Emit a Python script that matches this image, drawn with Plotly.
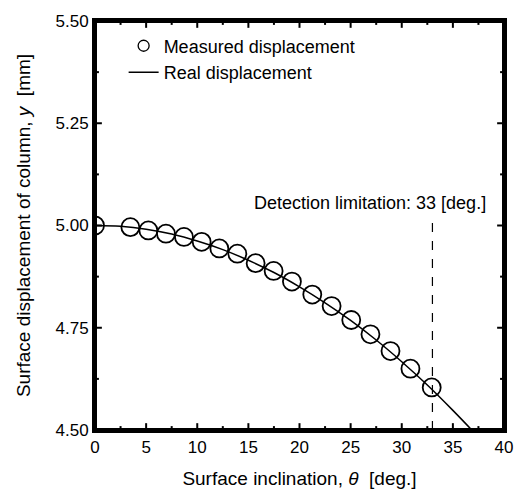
import plotly.graph_objects as go

# Measured displacement
theta_meas = [0, 3.46, 5.22, 6.94, 8.70, 10.43, 12.16, 13.92, 15.71, 17.47,
              19.26, 21.25, 23.14, 25.06, 26.94, 28.90, 30.85, 32.93]
y_meas = [5.000, 4.996, 4.988, 4.980, 4.972, 4.960, 4.944, 4.931, 4.908, 4.889,
          4.863, 4.831, 4.803, 4.769, 4.734, 4.693, 4.650, 4.604]

# Real displacement curve
theta_real = [0, 2.5, 5, 7.5, 10, 12.5, 15, 17.5, 20, 22.5, 25, 27.5, 30, 32.5, 35, 37]
y_real = [5.000, 4.998, 4.991, 4.979, 4.962, 4.941, 4.915, 4.885, 4.850, 4.811,
          4.768, 4.720, 4.667, 4.610, 4.548, 4.496]

detect_x = [33, 33]
detect_y = [4.50, 5.01]

x_range = [0, 40]
y_range = [4.5, 5.5]
x_major = [0, 5, 10, 15, 20, 25, 30, 35, 40]
x_minor = [2.5, 7.5, 12.5, 17.5, 22.5, 27.5, 32.5, 37.5]
y_major = [4.5, 4.75, 5.0, 5.25, 5.5]
y_minor = [4.625, 4.875, 5.125, 5.375]

FONT = "Liberation Sans, Arial, sans-serif"
W, H = 525, 499
M = dict(l=95, r=13, t=14, b=66)
plot_w = W - M["l"] - M["r"]
plot_h = H - M["t"] - M["b"]
xu = (x_range[1] - x_range[0]) / plot_w   # data units per pixel
yu = (y_range[1] - y_range[0]) / plot_h


def tick_segments(xs, ys_len_px, minor=False):
    pass


def x_ticks(vals, length_px):
    tx, ty = [], []
    L = length_px * yu
    for v in vals:
        tx += [v, v, None, v, v, None]
        ty += [y_range[0], y_range[0] + L, None, y_range[1], y_range[1] - L, None]
    return tx, ty


def y_ticks(vals, length_px):
    tx, ty = [], []
    L = length_px * xu
    for v in vals:
        tx += [x_range[0], x_range[0] + L, None, x_range[1], x_range[1] - L, None]
        ty += [v, v, None, v, v, None]
    return tx, ty


fig = go.Figure()

# frame and tick marks (decoration, derived from axis ranges and tick lists)
fx = [x_range[0], x_range[1], x_range[1], x_range[0], x_range[0]]
fy = [y_range[0], y_range[0], y_range[1], y_range[1], y_range[0]]
fig.add_trace(go.Scatter(x=fx, y=fy, mode="lines", showlegend=False, hoverinfo="skip",
                         line=dict(color="black", width=4)))
for vals, ln, fn in [(x_major, 7, x_ticks), (x_minor, 4, x_ticks),
                     (y_major, 7, y_ticks), (y_minor, 4, y_ticks)]:
    tx, ty = fn(vals, ln)
    fig.add_trace(go.Scatter(x=tx, y=ty, mode="lines", showlegend=False, hoverinfo="skip",
                             line=dict(color="black", width=2)))

fig.add_trace(go.Scatter(x=theta_real, y=y_real, mode="lines", name="Real displacement",
                         line=dict(color="black", width=1.5, shape="spline"), showlegend=False))
fig.add_trace(go.Scatter(x=detect_x, y=detect_y, mode="lines", showlegend=False,
                         line=dict(color="black", width=1.2, dash="dash")))
fig.add_trace(go.Scatter(x=theta_meas, y=y_meas, mode="markers", showlegend=False,
                         marker=dict(symbol="circle-open", size=18, color="black",
                                     line=dict(width=1.8, color="black"))))
# legend entries
fig.add_trace(go.Scatter(x=[None], y=[None], mode="markers", name="Measured displacement",
                         marker=dict(symbol="circle-open", size=11, color="black",
                                     line=dict(width=1.3, color="black"))))
fig.add_trace(go.Scatter(x=[None], y=[None], mode="lines", name="Real displacement",
                         line=dict(color="black", width=1.5)))

fig.add_annotation(x=38.45, y=5.056, xref="x", yref="y", text="Detection limitation: 33 [deg.]",
                   showarrow=False, xanchor="right", yanchor="middle",
                   font=dict(family=FONT, size=18, color="black"))

axis_common = dict(showline=True, linecolor="black", linewidth=3, mirror=True,
                   ticks="", showgrid=False, zeroline=False,
                   tickfont=dict(family=FONT, size=17, color="black"))

fig.update_xaxes(range=x_range, tickvals=x_major, ticktext=[str(v) for v in x_major],
                 title=dict(text="Surface inclination, <i>θ</i>  [deg.]", standoff=16,
                            font=dict(family=FONT, size=19, color="black")),
                 **axis_common)
fig.update_yaxes(range=y_range, tickvals=y_major, ticktext=[f"{v:.2f}" for v in y_major],
                 title=dict(text="Surface displacement of column, <i>y</i>  [mm]", standoff=20,
                            font=dict(family=FONT, size=19, color="black")),
                 **axis_common)

fig.update_layout(width=W, height=H, margin=M, template="simple_white",
                  paper_bgcolor="white",
                  font=dict(family=FONT, color="black"),
                  legend=dict(x=0.07, y=0.984, xanchor="left", yanchor="top",
                              bgcolor="rgba(0,0,0,0)", tracegroupgap=0,
                              font=dict(family=FONT, size=18, color="black"),
                              itemwidth=30))

fig.write_html("out.html")
